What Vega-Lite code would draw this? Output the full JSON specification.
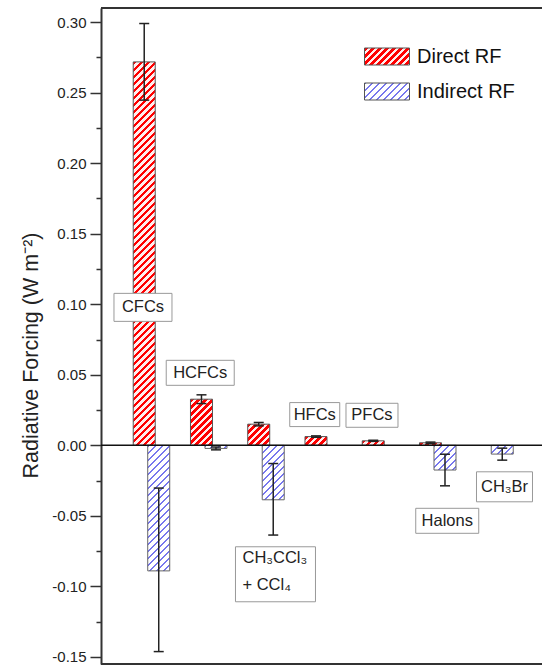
{
  "$schema": "https://vega.github.io/schema/vega-lite/v6.json",
  "width": 442,
  "height": 656,
  "padding": {"left": 20, "top": 7, "right": 0, "bottom": 0},
  "background": "white",
  "config": {
    "view": {"stroke": null},
    "font": "Liberation Sans",
    "axisX": {"labels": false, "ticks": false, "grid": false, "domainColor": "#333", "domainWidth": 2}
  },
  "resolve": {"axis": {"y": "independent"}},
  "params": [
    {"name": "redStops", "value": [
      {"offset":0,"color":"#f00"},{"offset":0.0086,"color":"#f00"},{"offset":0.0086,"color":"#fee"},{"offset":0.015625,"color":"#fee"},
      {"offset":0.015625,"color":"#f00"},{"offset":0.024225,"color":"#f00"},{"offset":0.024225,"color":"#fee"},{"offset":0.03125,"color":"#fee"},
      {"offset":0.03125,"color":"#f00"},{"offset":0.03985,"color":"#f00"},{"offset":0.03985,"color":"#fee"},{"offset":0.046875,"color":"#fee"},
      {"offset":0.046875,"color":"#f00"},{"offset":0.055475,"color":"#f00"},{"offset":0.055475,"color":"#fee"},{"offset":0.0625,"color":"#fee"},
      {"offset":0.0625,"color":"#f00"},{"offset":0.0711,"color":"#f00"},{"offset":0.0711,"color":"#fee"},{"offset":0.078125,"color":"#fee"},
      {"offset":0.078125,"color":"#f00"},{"offset":0.086725,"color":"#f00"},{"offset":0.086725,"color":"#fee"},{"offset":0.09375,"color":"#fee"},
      {"offset":0.09375,"color":"#f00"},{"offset":0.10235,"color":"#f00"},{"offset":0.10235,"color":"#fee"},{"offset":0.109375,"color":"#fee"},
      {"offset":0.109375,"color":"#f00"},{"offset":0.117975,"color":"#f00"},{"offset":0.117975,"color":"#fee"},{"offset":0.125,"color":"#fee"},
      {"offset":0.125,"color":"#f00"},{"offset":0.1336,"color":"#f00"},{"offset":0.1336,"color":"#fee"},{"offset":0.140625,"color":"#fee"},
      {"offset":0.140625,"color":"#f00"},{"offset":0.149225,"color":"#f00"},{"offset":0.149225,"color":"#fee"},{"offset":0.15625,"color":"#fee"},
      {"offset":0.15625,"color":"#f00"},{"offset":0.16485,"color":"#f00"},{"offset":0.16485,"color":"#fee"},{"offset":0.171875,"color":"#fee"},
      {"offset":0.171875,"color":"#f00"},{"offset":0.180475,"color":"#f00"},{"offset":0.180475,"color":"#fee"},{"offset":0.1875,"color":"#fee"},
      {"offset":0.1875,"color":"#f00"},{"offset":0.1961,"color":"#f00"},{"offset":0.1961,"color":"#fee"},{"offset":0.203125,"color":"#fee"},
      {"offset":0.203125,"color":"#f00"},{"offset":0.211725,"color":"#f00"},{"offset":0.211725,"color":"#fee"},{"offset":0.21875,"color":"#fee"},
      {"offset":0.21875,"color":"#f00"},{"offset":0.22735,"color":"#f00"},{"offset":0.22735,"color":"#fee"},{"offset":0.234375,"color":"#fee"},
      {"offset":0.234375,"color":"#f00"},{"offset":0.242975,"color":"#f00"},{"offset":0.242975,"color":"#fee"},{"offset":0.25,"color":"#fee"},
      {"offset":0.25,"color":"#f00"},{"offset":0.2586,"color":"#f00"},{"offset":0.2586,"color":"#fee"},{"offset":0.265625,"color":"#fee"},
      {"offset":0.265625,"color":"#f00"},{"offset":0.274225,"color":"#f00"},{"offset":0.274225,"color":"#fee"},{"offset":0.28125,"color":"#fee"},
      {"offset":0.28125,"color":"#f00"},{"offset":0.28985,"color":"#f00"},{"offset":0.28985,"color":"#fee"},{"offset":0.296875,"color":"#fee"},
      {"offset":0.296875,"color":"#f00"},{"offset":0.305475,"color":"#f00"},{"offset":0.305475,"color":"#fee"},{"offset":0.3125,"color":"#fee"},
      {"offset":0.3125,"color":"#f00"},{"offset":0.3211,"color":"#f00"},{"offset":0.3211,"color":"#fee"},{"offset":0.328125,"color":"#fee"},
      {"offset":0.328125,"color":"#f00"},{"offset":0.336725,"color":"#f00"},{"offset":0.336725,"color":"#fee"},{"offset":0.34375,"color":"#fee"},
      {"offset":0.34375,"color":"#f00"},{"offset":0.35235,"color":"#f00"},{"offset":0.35235,"color":"#fee"},{"offset":0.359375,"color":"#fee"},
      {"offset":0.359375,"color":"#f00"},{"offset":0.367975,"color":"#f00"},{"offset":0.367975,"color":"#fee"},{"offset":0.375,"color":"#fee"},
      {"offset":0.375,"color":"#f00"},{"offset":0.3836,"color":"#f00"},{"offset":0.3836,"color":"#fee"},{"offset":0.390625,"color":"#fee"},
      {"offset":0.390625,"color":"#f00"},{"offset":0.399225,"color":"#f00"},{"offset":0.399225,"color":"#fee"},{"offset":0.40625,"color":"#fee"},
      {"offset":0.40625,"color":"#f00"},{"offset":0.41485,"color":"#f00"},{"offset":0.41485,"color":"#fee"},{"offset":0.421875,"color":"#fee"},
      {"offset":0.421875,"color":"#f00"},{"offset":0.430475,"color":"#f00"},{"offset":0.430475,"color":"#fee"},{"offset":0.4375,"color":"#fee"},
      {"offset":0.4375,"color":"#f00"},{"offset":0.4461,"color":"#f00"},{"offset":0.4461,"color":"#fee"},{"offset":0.453125,"color":"#fee"},
      {"offset":0.453125,"color":"#f00"},{"offset":0.461725,"color":"#f00"},{"offset":0.461725,"color":"#fee"},{"offset":0.46875,"color":"#fee"},
      {"offset":0.46875,"color":"#f00"},{"offset":0.47735,"color":"#f00"},{"offset":0.47735,"color":"#fee"},{"offset":0.484375,"color":"#fee"},
      {"offset":0.484375,"color":"#f00"},{"offset":0.492975,"color":"#f00"},{"offset":0.492975,"color":"#fee"},{"offset":0.5,"color":"#fee"},
      {"offset":0.5,"color":"#f00"},{"offset":0.5086,"color":"#f00"},{"offset":0.5086,"color":"#fee"},{"offset":0.515625,"color":"#fee"},
      {"offset":0.515625,"color":"#f00"},{"offset":0.524225,"color":"#f00"},{"offset":0.524225,"color":"#fee"},{"offset":0.53125,"color":"#fee"},
      {"offset":0.53125,"color":"#f00"},{"offset":0.53985,"color":"#f00"},{"offset":0.53985,"color":"#fee"},{"offset":0.546875,"color":"#fee"},
      {"offset":0.546875,"color":"#f00"},{"offset":0.555475,"color":"#f00"},{"offset":0.555475,"color":"#fee"},{"offset":0.5625,"color":"#fee"},
      {"offset":0.5625,"color":"#f00"},{"offset":0.5711,"color":"#f00"},{"offset":0.5711,"color":"#fee"},{"offset":0.578125,"color":"#fee"},
      {"offset":0.578125,"color":"#f00"},{"offset":0.586725,"color":"#f00"},{"offset":0.586725,"color":"#fee"},{"offset":0.59375,"color":"#fee"},
      {"offset":0.59375,"color":"#f00"},{"offset":0.60235,"color":"#f00"},{"offset":0.60235,"color":"#fee"},{"offset":0.609375,"color":"#fee"},
      {"offset":0.609375,"color":"#f00"},{"offset":0.617975,"color":"#f00"},{"offset":0.617975,"color":"#fee"},{"offset":0.625,"color":"#fee"},
      {"offset":0.625,"color":"#f00"},{"offset":0.6336,"color":"#f00"},{"offset":0.6336,"color":"#fee"},{"offset":0.640625,"color":"#fee"},
      {"offset":0.640625,"color":"#f00"},{"offset":0.649225,"color":"#f00"},{"offset":0.649225,"color":"#fee"},{"offset":0.65625,"color":"#fee"},
      {"offset":0.65625,"color":"#f00"},{"offset":0.66485,"color":"#f00"},{"offset":0.66485,"color":"#fee"},{"offset":0.671875,"color":"#fee"},
      {"offset":0.671875,"color":"#f00"},{"offset":0.680475,"color":"#f00"},{"offset":0.680475,"color":"#fee"},{"offset":0.6875,"color":"#fee"},
      {"offset":0.6875,"color":"#f00"},{"offset":0.6961,"color":"#f00"},{"offset":0.6961,"color":"#fee"},{"offset":0.703125,"color":"#fee"},
      {"offset":0.703125,"color":"#f00"},{"offset":0.711725,"color":"#f00"},{"offset":0.711725,"color":"#fee"},{"offset":0.71875,"color":"#fee"},
      {"offset":0.71875,"color":"#f00"},{"offset":0.72735,"color":"#f00"},{"offset":0.72735,"color":"#fee"},{"offset":0.734375,"color":"#fee"},
      {"offset":0.734375,"color":"#f00"},{"offset":0.742975,"color":"#f00"},{"offset":0.742975,"color":"#fee"},{"offset":0.75,"color":"#fee"},
      {"offset":0.75,"color":"#f00"},{"offset":0.7586,"color":"#f00"},{"offset":0.7586,"color":"#fee"},{"offset":0.765625,"color":"#fee"},
      {"offset":0.765625,"color":"#f00"},{"offset":0.774225,"color":"#f00"},{"offset":0.774225,"color":"#fee"},{"offset":0.78125,"color":"#fee"},
      {"offset":0.78125,"color":"#f00"},{"offset":0.78985,"color":"#f00"},{"offset":0.78985,"color":"#fee"},{"offset":0.796875,"color":"#fee"},
      {"offset":0.796875,"color":"#f00"},{"offset":0.805475,"color":"#f00"},{"offset":0.805475,"color":"#fee"},{"offset":0.8125,"color":"#fee"},
      {"offset":0.8125,"color":"#f00"},{"offset":0.8211,"color":"#f00"},{"offset":0.8211,"color":"#fee"},{"offset":0.828125,"color":"#fee"},
      {"offset":0.828125,"color":"#f00"},{"offset":0.836725,"color":"#f00"},{"offset":0.836725,"color":"#fee"},{"offset":0.84375,"color":"#fee"},
      {"offset":0.84375,"color":"#f00"},{"offset":0.85235,"color":"#f00"},{"offset":0.85235,"color":"#fee"},{"offset":0.859375,"color":"#fee"},
      {"offset":0.859375,"color":"#f00"},{"offset":0.867975,"color":"#f00"},{"offset":0.867975,"color":"#fee"},{"offset":0.875,"color":"#fee"},
      {"offset":0.875,"color":"#f00"},{"offset":0.8836,"color":"#f00"},{"offset":0.8836,"color":"#fee"},{"offset":0.890625,"color":"#fee"},
      {"offset":0.890625,"color":"#f00"},{"offset":0.899225,"color":"#f00"},{"offset":0.899225,"color":"#fee"},{"offset":0.90625,"color":"#fee"},
      {"offset":0.90625,"color":"#f00"},{"offset":0.91485,"color":"#f00"},{"offset":0.91485,"color":"#fee"},{"offset":0.921875,"color":"#fee"},
      {"offset":0.921875,"color":"#f00"},{"offset":0.930475,"color":"#f00"},{"offset":0.930475,"color":"#fee"},{"offset":0.9375,"color":"#fee"},
      {"offset":0.9375,"color":"#f00"},{"offset":0.9461,"color":"#f00"},{"offset":0.9461,"color":"#fee"},{"offset":0.953125,"color":"#fee"},
      {"offset":0.953125,"color":"#f00"},{"offset":0.961725,"color":"#f00"},{"offset":0.961725,"color":"#fee"},{"offset":0.96875,"color":"#fee"},
      {"offset":0.96875,"color":"#f00"},{"offset":0.97735,"color":"#f00"},{"offset":0.97735,"color":"#fee"},{"offset":0.984375,"color":"#fee"},
      {"offset":0.984375,"color":"#f00"},{"offset":0.992975,"color":"#f00"},{"offset":0.992975,"color":"#fee"},{"offset":1,"color":"#fee"}
    ]},
    {"name": "blueStops", "value": [
      {"offset":0,"color":"#77e"},{"offset":0.009,"color":"#77e"},{"offset":0.009,"color":"#fff"},{"offset":0.03125,"color":"#fff"},
      {"offset":0.03125,"color":"#77e"},{"offset":0.04025,"color":"#77e"},{"offset":0.04025,"color":"#fff"},{"offset":0.0625,"color":"#fff"},
      {"offset":0.0625,"color":"#77e"},{"offset":0.0715,"color":"#77e"},{"offset":0.0715,"color":"#fff"},{"offset":0.09375,"color":"#fff"},
      {"offset":0.09375,"color":"#77e"},{"offset":0.10275,"color":"#77e"},{"offset":0.10275,"color":"#fff"},{"offset":0.125,"color":"#fff"},
      {"offset":0.125,"color":"#77e"},{"offset":0.134,"color":"#77e"},{"offset":0.134,"color":"#fff"},{"offset":0.15625,"color":"#fff"},
      {"offset":0.15625,"color":"#77e"},{"offset":0.16525,"color":"#77e"},{"offset":0.16525,"color":"#fff"},{"offset":0.1875,"color":"#fff"},
      {"offset":0.1875,"color":"#77e"},{"offset":0.1965,"color":"#77e"},{"offset":0.1965,"color":"#fff"},{"offset":0.21875,"color":"#fff"},
      {"offset":0.21875,"color":"#77e"},{"offset":0.22775,"color":"#77e"},{"offset":0.22775,"color":"#fff"},{"offset":0.25,"color":"#fff"},
      {"offset":0.25,"color":"#77e"},{"offset":0.259,"color":"#77e"},{"offset":0.259,"color":"#fff"},{"offset":0.28125,"color":"#fff"},
      {"offset":0.28125,"color":"#77e"},{"offset":0.29025,"color":"#77e"},{"offset":0.29025,"color":"#fff"},{"offset":0.3125,"color":"#fff"},
      {"offset":0.3125,"color":"#77e"},{"offset":0.3215,"color":"#77e"},{"offset":0.3215,"color":"#fff"},{"offset":0.34375,"color":"#fff"},
      {"offset":0.34375,"color":"#77e"},{"offset":0.35275,"color":"#77e"},{"offset":0.35275,"color":"#fff"},{"offset":0.375,"color":"#fff"},
      {"offset":0.375,"color":"#77e"},{"offset":0.384,"color":"#77e"},{"offset":0.384,"color":"#fff"},{"offset":0.40625,"color":"#fff"},
      {"offset":0.40625,"color":"#77e"},{"offset":0.41525,"color":"#77e"},{"offset":0.41525,"color":"#fff"},{"offset":0.4375,"color":"#fff"},
      {"offset":0.4375,"color":"#77e"},{"offset":0.4465,"color":"#77e"},{"offset":0.4465,"color":"#fff"},{"offset":0.46875,"color":"#fff"},
      {"offset":0.46875,"color":"#77e"},{"offset":0.47775,"color":"#77e"},{"offset":0.47775,"color":"#fff"},{"offset":0.5,"color":"#fff"},
      {"offset":0.5,"color":"#77e"},{"offset":0.509,"color":"#77e"},{"offset":0.509,"color":"#fff"},{"offset":0.53125,"color":"#fff"},
      {"offset":0.53125,"color":"#77e"},{"offset":0.54025,"color":"#77e"},{"offset":0.54025,"color":"#fff"},{"offset":0.5625,"color":"#fff"},
      {"offset":0.5625,"color":"#77e"},{"offset":0.5715,"color":"#77e"},{"offset":0.5715,"color":"#fff"},{"offset":0.59375,"color":"#fff"},
      {"offset":0.59375,"color":"#77e"},{"offset":0.60275,"color":"#77e"},{"offset":0.60275,"color":"#fff"},{"offset":0.625,"color":"#fff"},
      {"offset":0.625,"color":"#77e"},{"offset":0.634,"color":"#77e"},{"offset":0.634,"color":"#fff"},{"offset":0.65625,"color":"#fff"},
      {"offset":0.65625,"color":"#77e"},{"offset":0.66525,"color":"#77e"},{"offset":0.66525,"color":"#fff"},{"offset":0.6875,"color":"#fff"},
      {"offset":0.6875,"color":"#77e"},{"offset":0.6965,"color":"#77e"},{"offset":0.6965,"color":"#fff"},{"offset":0.71875,"color":"#fff"},
      {"offset":0.71875,"color":"#77e"},{"offset":0.72775,"color":"#77e"},{"offset":0.72775,"color":"#fff"},{"offset":0.75,"color":"#fff"},
      {"offset":0.75,"color":"#77e"},{"offset":0.759,"color":"#77e"},{"offset":0.759,"color":"#fff"},{"offset":0.78125,"color":"#fff"},
      {"offset":0.78125,"color":"#77e"},{"offset":0.79025,"color":"#77e"},{"offset":0.79025,"color":"#fff"},{"offset":0.8125,"color":"#fff"},
      {"offset":0.8125,"color":"#77e"},{"offset":0.8215,"color":"#77e"},{"offset":0.8215,"color":"#fff"},{"offset":0.84375,"color":"#fff"},
      {"offset":0.84375,"color":"#77e"},{"offset":0.85275,"color":"#77e"},{"offset":0.85275,"color":"#fff"},{"offset":0.875,"color":"#fff"},
      {"offset":0.875,"color":"#77e"},{"offset":0.884,"color":"#77e"},{"offset":0.884,"color":"#fff"},{"offset":0.90625,"color":"#fff"},
      {"offset":0.90625,"color":"#77e"},{"offset":0.91525,"color":"#77e"},{"offset":0.91525,"color":"#fff"},{"offset":0.9375,"color":"#fff"},
      {"offset":0.9375,"color":"#77e"},{"offset":0.9465,"color":"#77e"},{"offset":0.9465,"color":"#fff"},{"offset":0.96875,"color":"#fff"},
      {"offset":0.96875,"color":"#77e"},{"offset":0.97775,"color":"#77e"},{"offset":0.97775,"color":"#fff"},{"offset":1,"color":"#fff"}
    ]}
  ],
  "datasets": {
    "bars": [
      {"cat":"CFCs","type":"Direct RF","value":0.2718,"lo":0.2447,"hi":0.299},
      {"cat":"CFCs","type":"Indirect RF","value":-0.089,"lo":-0.1462,"hi":-0.0303},
      {"cat":"HCFCs","type":"Direct RF","value":0.0327,"lo":0.0296,"hi":0.0358},
      {"cat":"HCFCs","type":"Indirect RF","value":-0.0022,"lo":-0.0032,"hi":-0.0012},
      {"cat":"CH3CCl3","type":"Direct RF","value":0.015,"lo":0.0138,"hi":0.0162},
      {"cat":"CH3CCl3","type":"Indirect RF","value":-0.0386,"lo":-0.0636,"hi":-0.0129},
      {"cat":"HFCs","type":"Direct RF","value":0.0062,"lo":0.0057,"hi":0.0067},
      {"cat":"PFCs","type":"Direct RF","value":0.0032,"lo":0.0028,"hi":0.0036},
      {"cat":"Halons","type":"Direct RF","value":0.0018,"lo":0.0013,"hi":0.0023},
      {"cat":"Halons","type":"Indirect RF","value":-0.0175,"lo":-0.0287,"hi":-0.0063},
      {"cat":"CH3Br","type":"Indirect RF","value":-0.0062,"lo":-0.0105,"hi":-0.002}
    ],
    "labels": [
      {"name":"CFCs","text":"CFCs","cat":"CFCs","ly":0.0978,"side":"above"},
      {"name":"HCFCs","text":"HCFCs","cat":"HCFCs","ly":0.0514,"side":"above"},
      {"name":"HFCs","text":"HFCs","cat":"HFCs","ly":0.0218,"side":"above"},
      {"name":"PFCs","text":"PFCs","cat":"PFCs","ly":0.0213,"side":"above"},
      {"name":"CH3CCl3","text":["CH₃CCl₃","+ CCl₄"],"cat":"CH3CCl3","ly":-0.0914,"side":"below"},
      {"name":"Halons","text":"Halons","cat":"Halons","ly":-0.0535,"side":"below"},
      {"name":"CH3Br","text":"CH₃Br","cat":"CH3Br","ly":-0.0294,"side":"below"}
    ]
  },
  "layer": [
    {
      "data": {"name": "bars"},
      "transform": [
        {"filter": "datum.type == 'Direct RF'"},
        {"calculate": "abs(datum.value)*656/0.465", "as": "h"},
        {"calculate": "{gradient:'linear',x1:0,y1:0,x2:448*22/(484+datum.h*datum.h),y2:448*datum.h/(484+datum.h*datum.h),stops:redStops}", "as": "grad"}
      ],
      "mark": {"type": "bar", "width": 22, "xOffset": -7.25, "stroke": "#555", "strokeWidth": 1},
      "encoding": {
        "x": {"field": "cat", "type": "nominal", "title": null,
              "scale": {"domain": ["CFCs","HCFCs","CH3CCl3","HFCs","PFCs","Halons","CH3Br"], "paddingInner": 0, "paddingOuter": 0.36, "align": 0.53}},
        "y": {"field": "value", "type": "quantitative",
              "scale": {"domain": [-0.155, 0.31], "nice": false},
              "axis": {
                "title": "Radiative Forcing (W m⁻²)",
                "values": [-0.15,-0.1,-0.05,0,0.05,0.1,0.15,0.2,0.25,0.3],
                "labelExpr": "replace(format(datum.value,'.2f'),'−','-')",
                "tickSize": 11,
                "grid": false, "domainColor": "#333", "domainWidth": 2, "tickColor": "#333", "tickWidth": 1.5,
                "labelFont": "Liberation Sans", "labelFontSize": 15, "labelColor": "#222", "labelPadding": 4,
                "labelOverlap": false, "labelFlush": false,
                "titleFont": "Liberation Sans", "titleFontSize": 21.5, "titleFontWeight": "normal", "titleColor": "#222", "titlePadding": 9,
                "titleY": 347
              }},
        "y2": {"datum": 0},
        "fill": {"field": "grad", "type": "nominal", "scale": null}
      }
    },
    {
      "data": {"name": "bars"},
      "transform": [
        {"filter": "datum.type == 'Indirect RF'"},
        {"calculate": "abs(datum.value)*656/0.465", "as": "h"},
        {"calculate": "{gradient:'linear',x1:0,y1:0,x2:224*22/(484+datum.h*datum.h),y2:224*datum.h/(484+datum.h*datum.h),stops:blueStops}", "as": "grad"}
      ],
      "mark": {"type": "bar", "width": 22, "xOffset": 7.25, "stroke": "#666", "strokeWidth": 1},
      "encoding": {
        "x": {"field": "cat", "type": "nominal", "title": null, "axis": null},
        "y": {"field": "value", "type": "quantitative", "axis": null},
        "y2": {"datum": 0},
        "fill": {"field": "grad", "type": "nominal", "scale": null}
      }
    },
    {
      "data": {"values": [{}]},
      "mark": {"type": "rule", "color": "#111", "strokeWidth": 1.5},
      "encoding": {"y": {"datum": 0, "type": "quantitative",
        "axis": {"orient": "left", "title": null, "labels": false, "domain": false, "grid": false,
                 "values": [-0.125,-0.075,-0.025,0.025,0.075,0.125,0.175,0.225,0.275],
                 "tickSize": 5, "tickColor": "#333", "tickWidth": 1.5}}}
    },
    {
      "data": {"values": [{}]},
      "mark": {"type": "rule", "color": "#333", "strokeWidth": 2},
      "encoding": {"y": {"datum": 0.31, "type": "quantitative", "axis": null}}
    },
    {
      "data": {"values": [{}]},
      "mark": {"type": "rule", "color": "#333", "strokeWidth": 2},
      "encoding": {"y": {"datum": -0.155, "type": "quantitative", "axis": null}}
    },
    {
      "data": {"name": "bars"},
      "transform": [{"filter": "datum.type == 'Direct RF'"}],
      "mark": {"type": "rule", "xOffset": -7.25, "color": "#222", "strokeWidth": 1.5},
      "encoding": {
        "x": {"field": "cat", "type": "nominal", "title": null, "axis": null},
        "y": {"field": "lo", "type": "quantitative", "axis": null},
        "y2": {"field": "hi"}
      }
    },
    {
      "data": {"name": "bars"},
      "transform": [{"filter": "datum.type == 'Direct RF'"}, {"fold": ["lo", "hi"], "as": ["k", "v"]}],
      "mark": {"type": "tick", "orient": "horizontal", "xOffset": -7.25, "size": 10, "thickness": 1.5, "color": "#222", "opacity": 1},
      "encoding": {
        "x": {"field": "cat", "type": "nominal", "title": null, "axis": null},
        "y": {"field": "v", "type": "quantitative", "axis": null}
      }
    },
    {
      "data": {"name": "bars"},
      "transform": [{"filter": "datum.type == 'Indirect RF'"}],
      "mark": {"type": "rule", "xOffset": 7.25, "color": "#222", "strokeWidth": 1.5},
      "encoding": {
        "x": {"field": "cat", "type": "nominal", "title": null, "axis": null},
        "y": {"field": "lo", "type": "quantitative", "axis": null},
        "y2": {"field": "hi"}
      }
    },
    {
      "data": {"name": "bars"},
      "transform": [{"filter": "datum.type == 'Indirect RF'"}, {"fold": ["lo", "hi"], "as": ["k", "v"]}],
      "mark": {"type": "tick", "orient": "horizontal", "xOffset": 7.25, "size": 10, "thickness": 1.5, "color": "#222", "opacity": 1},
      "encoding": {
        "x": {"field": "cat", "type": "nominal", "title": null, "axis": null},
        "y": {"field": "v", "type": "quantitative", "axis": null}
      }
    },
    {
      "data": {"name": "labels"},
      "transform": [{"filter": "datum.side == 'above'"}],
      "mark": {"type": "point", "filled": true, "fill": "white", "stroke": "#999", "strokeWidth": 1, "size": 10000, "opacity": 1, "xOffset": -8.5},
      "encoding": {
        "x": {"field": "cat", "type": "nominal", "title": null, "axis": null},
        "y": {"field": "ly", "type": "quantitative", "axis": null},
        "shape": {"field": "name", "type": "nominal", "legend": null,
                  "scale": {"domain": ["CFCs","HCFCs","HFCs","PFCs","CH3CCl3","Halons","CH3Br"],
                            "range": ["M-0.58,-0.28H0.58V0.28H-0.58Z","M-0.68,-0.25H0.68V0.25H-0.68Z","M-0.5,-0.24H0.5V0.24H-0.5Z","M-0.52,-0.24H0.52V0.24H-0.52Z","M-0.8,-0.55H0.8V0.55H-0.8Z","M-0.63,-0.25H0.63V0.25H-0.63Z","M-0.56,-0.3H0.56V0.3H-0.56Z"]}}
      }
    },
    {
      "data": {"name": "labels"},
      "transform": [{"filter": "datum.side == 'below'"}],
      "mark": {"type": "point", "filled": true, "fill": "white", "stroke": "#999", "strokeWidth": 1, "size": 10000, "opacity": 1, "xOffset": 9.5},
      "encoding": {
        "x": {"field": "cat", "type": "nominal", "title": null, "axis": null},
        "y": {"field": "ly", "type": "quantitative", "axis": null},
        "shape": {"field": "name", "type": "nominal", "legend": null}
      }
    },
    {
      "data": {"name": "labels"},
      "transform": [{"filter": "datum.side == 'above'"}],
      "mark": {"type": "text", "font": "Liberation Sans", "fontSize": 16.5, "color": "#222", "align": "center", "baseline": "middle", "xOffset": -8.5},
      "encoding": {
        "x": {"field": "cat", "type": "nominal", "title": null, "axis": null},
        "y": {"field": "ly", "type": "quantitative", "axis": null},
        "text": {"field": "text"}
      }
    },
    {
      "data": {"name": "labels"},
      "transform": [{"filter": "datum.side == 'below' && datum.name != 'CH3CCl3'"}],
      "mark": {"type": "text", "font": "Liberation Sans", "fontSize": 16.5, "color": "#222", "align": "center", "baseline": "middle", "xOffset": 9.5},
      "encoding": {
        "x": {"field": "cat", "type": "nominal", "title": null, "axis": null},
        "y": {"field": "ly", "type": "quantitative", "axis": null},
        "text": {"field": "text"}
      }
    },
    {
      "data": {"name": "labels"},
      "transform": [{"filter": "datum.name == 'CH3CCl3'"}],
      "mark": {"type": "text", "font": "Liberation Sans", "fontSize": 16.5, "color": "#222", "align": "left", "baseline": "middle", "lineHeight": 27, "dx": -33, "dy": -16, "xOffset": 9.5},
      "encoding": {
        "x": {"field": "cat", "type": "nominal", "title": null, "axis": null},
        "y": {"field": "ly", "type": "quantitative", "axis": null},
        "text": {"field": "text"}
      }
    },
    {
      "data": {"name": "bars"},
      "transform": [{"filter": "false"}],
      "mark": {"type": "point", "filled": true, "opacity": 1},
      "encoding": {
        "color": {"field": "type", "type": "nominal",
                  "scale": {"domain": ["Direct RF", "Indirect RF"],
                            "range": [{"expr": "{gradient:'linear',x1:0,y1:0,x2:8.712,y2:3.291,stops:redStops}"},
                                      {"expr": "{gradient:'linear',x1:0,y1:0,x2:4.356,y2:1.646,stops:blueStops}"}]},
                  "legend": {"title": null, "orient": "none", "legendX": 275.5, "legendY": 38,
                             "symbolType": "M-2.25,-0.85H2.25V0.85H-2.25Z", "symbolSize": 400,
                             "symbolStrokeColor": "#555", "symbolStrokeWidth": 1, "symbolOpacity": 1,
                             "labelFont": "Liberation Sans", "labelFontSize": 20, "labelColor": "#111",
                             "labelOffset": 19.5, "rowPadding": 14, "padding": 0}}
      }
    }
  ]
}
